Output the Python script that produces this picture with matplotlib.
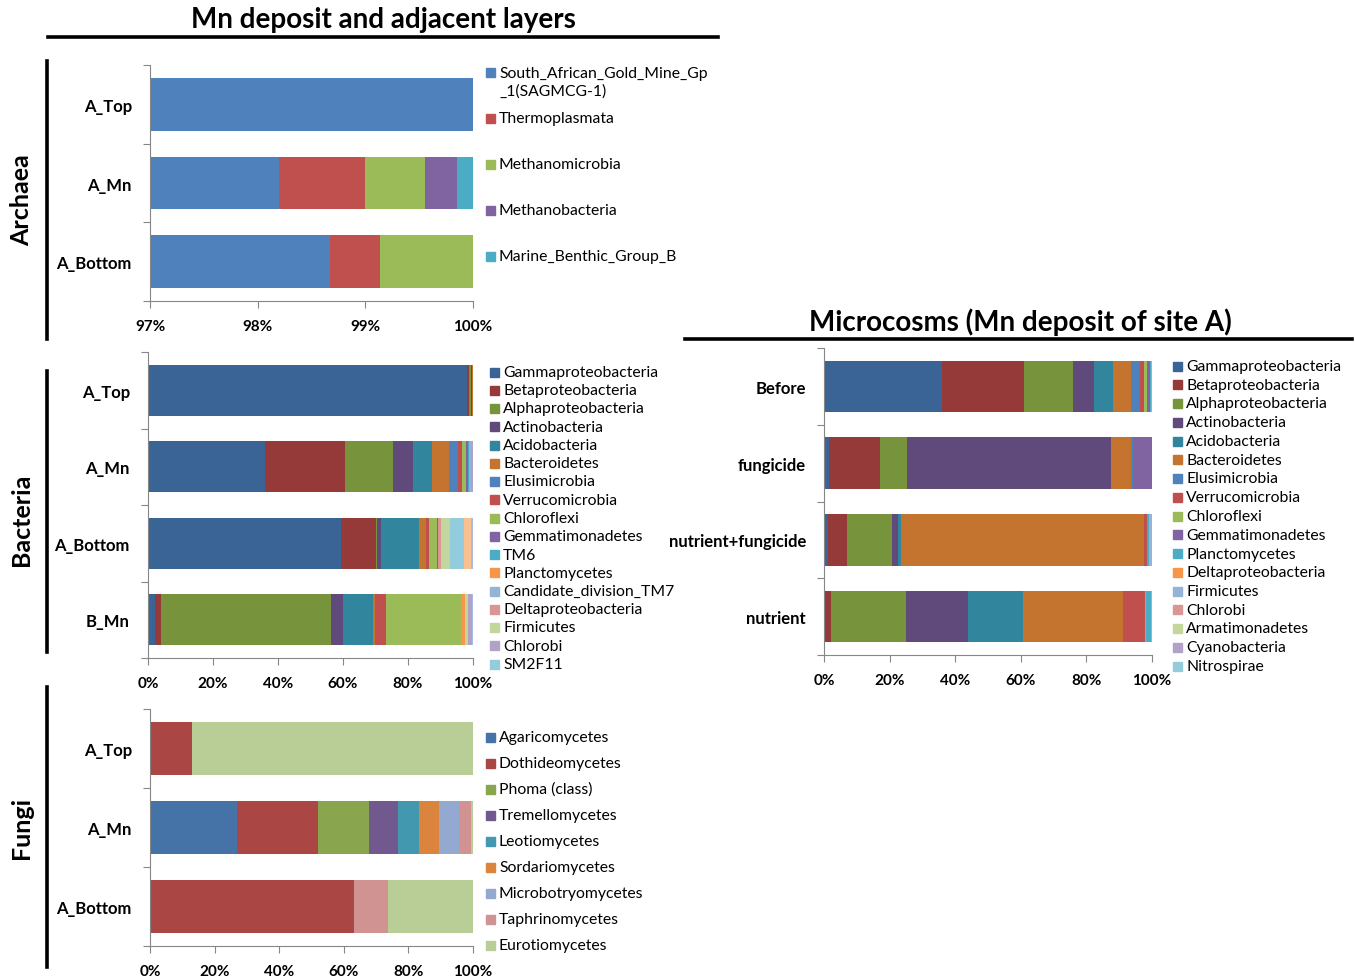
import numpy as np
import matplotlib.pyplot as plt
from matplotlib.patches import Rectangle
from matplotlib.lines import Line2D

plt.rcParams["font.family"] = ["Lato", "DejaVu Sans"]

W, H = 1355, 978

# ---- archaea ----
arch_samples = ["A_Top", "A_Mn", "A_Bottom"]
arch_names = ["South_African_Gold_Mine_Gp\n_1(SAGMCG-1)", "Thermoplasmata",
              "Methanomicrobia", "Methanobacteria", "Marine_Benthic_Group_B"]
arch_colors = ["#4F81BD", "#C0504D", "#9BBB59", "#8064A2", "#4BACC6"]
arch_top = [100.0, 0, 0, 0, 0]
arch_mn = [98.20, 0.80, 0.55, 0.30, 0.15]
arch_bottom = [98.67, 0.47, 0.86, 0, 0]

# ---- bacteria (last two groups are not listed in the legend) ----
bac_samples = ["A_Top", "A_Mn", "A_Bottom", "B_Mn"]
bac_names = ["Gammaproteobacteria", "Betaproteobacteria", "Alphaproteobacteria",
             "Actinobacteria", "Acidobacteria", "Bacteroidetes", "Elusimicrobia",
             "Verrucomicrobia", "Chloroflexi", "Gemmatimonadetes", "TM6",
             "Planctomycetes", "Candidate_division_TM7", "Deltaproteobacteria",
             "Firmicutes", "Chlorobi", "SM2F11", "Others", "Unassigned"]
bac_colors = ["#3B6496", "#953A38", "#77933C", "#604A7B", "#31859C", "#C5742F",
              "#4F81BD", "#C0504D", "#9BBB59", "#8064A2", "#4BACC6", "#F79646",
              "#95B3D7", "#D99694", "#C3D69B", "#B3A2C7", "#93CDDD", "#FAC090",
              "#A9B9E0"]
bac_a_top = [98.3, 0.4, 0.6, 0.3, 0.2, 0.2, 0, 0, 0, 0, 0, 0, 0, 0, 0, 0, 0, 0, 0]
bac_a_mn = [35.9, 24.6, 14.8, 6.3, 5.9, 5.2, 2.8, 1.2, 1.1, 0.7, 0.4, 0.3, 0.3,
            0.2, 0.1, 0.1, 0.1, 0, 0]
bac_a_bottom = [59.5, 10.7, 0.3, 1.1, 11.8, 2.2, 0, 0.9, 2.3, 0.3, 0, 0, 0, 1.2,
                2.7, 0, 4.1, 2.4, 0.5]
bac_b_mn = [2.1, 1.8, 52.4, 3.6, 9.4, 0.4, 0, 3.4, 23.3, 0, 0, 1.0, 0, 0, 1.2,
            1.2, 0, 0, 0.2]

# ---- fungi ----
fun_samples = ["A_Top", "A_Mn", "A_Bottom"]
fun_names = ["Agaricomycetes", "Dothideomycetes", "Phoma (class)", "Tremellomycetes",
             "Leotiomycetes", "Sordariomycetes", "Microbotryomycetes",
             "Taphrinomycetes", "Eurotiomycetes"]
fun_colors = ["#4572A7", "#AA4643", "#89A54E", "#71588F", "#4198AF", "#DB843D",
              "#93A9CF", "#D19392", "#B9CD96"]
fun_top = [0, 13.1, 0, 0, 0, 0, 0, 0, 86.9]
fun_mn = [26.9, 25.2, 15.8, 8.8, 6.5, 6.4, 6.2, 3.6, 0.6]
fun_bottom = [0, 63.3, 0, 0, 0, 0, 0, 10.4, 26.3]

# ---- microcosms ----
mic_samples = ["Before", "fungicide", "nutrient+fungicide", "nutrient"]
mic_names = ["Gammaproteobacteria", "Betaproteobacteria", "Alphaproteobacteria",
             "Actinobacteria", "Acidobacteria", "Bacteroidetes", "Elusimicrobia",
             "Verrucomicrobia", "Chloroflexi", "Gemmatimonadetes", "Planctomycetes",
             "Deltaproteobacteria", "Firmicutes", "Chlorobi", "Armatimonadetes",
             "Cyanobacteria", "Nitrospirae"]
mic_colors = ["#3B6496", "#953A38", "#77933C", "#604A7B", "#31859C", "#C5742F",
              "#4F81BD", "#C0504D", "#9BBB59", "#8064A2", "#4BACC6", "#F79646",
              "#95B3D7", "#D99694", "#C3D69B", "#B3A2C7", "#93CDDD"]
mic_before = [36.1, 24.9, 15.0, 6.2, 5.9, 5.4, 2.7, 1.3, 1.1, 0.8, 0.3, 0.1, 0.1,
              0.05, 0.05, 0, 0]
mic_fungicide = [1.4, 15.6, 8.3, 62.3, 0, 6.1, 0.5, 0, 0, 5.8, 0, 0, 0, 0, 0, 0, 0]
mic_nut_fung = [1.1, 5.8, 13.9, 1.9, 0.7, 74.1, 0, 0.9, 0.2, 0, 0.4, 0.1, 0.9,
                0, 0, 0, 0]
mic_nutrient = [0, 2.1, 22.8, 19.1, 16.8, 30.5, 0, 6.5, 0.4, 0, 1.6, 0, 0.2,
                0, 0, 0, 0]


def px_axes(x0, y0, x1, y1):
    # axes from pixel box (top-left origin)
    return fig.add_axes([x0 / W, 1 - y1 / H, (x1 - x0) / W, (y1 - y0) / H])


def stacked(ax, samples, rows, colors, xlim, xticks):
    data = np.array(rows, dtype=float)
    y = np.arange(len(samples))
    left = np.zeros(len(samples))
    for j, col in enumerate(colors):
        ax.barh(y, data[:, j], left=left, height=0.67, color=col, linewidth=0)
        left += data[:, j]
    ax.set_xlim(*xlim)
    ax.set_ylim(len(samples) - 0.5, -0.5)
    ax.set_yticks(np.arange(len(samples) + 1) - 0.5)
    ax.set_yticklabels([])
    ax.set_yticks(y, minor=True)
    ax.set_yticklabels(samples, minor=True, fontsize=12, fontweight="bold")
    ax.tick_params(axis="y", which="minor", length=0, pad=13)
    ax.tick_params(axis="y", which="major", length=5, color="#868686")
    ax.set_xticks(xticks)
    ax.set_xticklabels([f"{t:g}%" for t in xticks], fontsize=11, fontweight="bold")
    ax.tick_params(axis="x", length=5, color="#868686", pad=8)
    for s in ["top", "right"]:
        ax.spines[s].set_visible(False)
    for s in ["left", "bottom"]:
        ax.spines[s].set_color("#868686")


def legend(x, ys, names, colors, size=11.3):
    for yy, name, col in zip(ys, names, colors):
        fig.patches.append(Rectangle(((x) / W, 1 - (yy + 4.5) / H), 9 / W, 9 / H,
                                     transform=fig.transFigure, color=col))
        nl = name.count("\n")
        fig.text((x + 13) / W, 1 - (yy + 10 * nl) / H, name, fontsize=size,
                 va="center", ha="left", linespacing=1.3)


def hline(x0, x1, y):
    fig.add_artist(Line2D([x0 / W, x1 / W], [1 - y / H, 1 - y / H], color="black",
                          lw=2.6, transform=fig.transFigure))


def vline(x, y0, y1):
    fig.add_artist(Line2D([x / W, x / W], [1 - y0 / H, 1 - y1 / H], color="black",
                          lw=2.6, transform=fig.transFigure))


fig = plt.figure(figsize=(W / 100, H / 100), dpi=100)

# archaea panel
ax1 = px_axes(150, 66, 473, 302)
stacked(ax1, arch_samples, [arch_top, arch_mn, arch_bottom], arch_colors,
        (97, 100), [97, 98, 99, 100])
legend(486, [73, 119, 165, 211, 257], arch_names, arch_colors)

# bacteria panel
ax2 = px_axes(148, 353, 473, 659)
stacked(ax2, bac_samples, [bac_a_top, bac_a_mn, bac_a_bottom, bac_b_mn], bac_colors,
        (0, 100), [0, 20, 40, 60, 80, 100])
legend(490, [373 + 18.25 * i for i in range(17)], bac_names[:17], bac_colors[:17])

# fungi panel
ax3 = px_axes(150, 710, 473, 947)
stacked(ax3, fun_samples, [fun_top, fun_mn, fun_bottom], fun_colors,
        (0, 100), [0, 20, 40, 60, 80, 100])
legend(486, [738 + 26 * i for i in range(9)], fun_names, fun_colors)

# microcosm panel
ax4 = px_axes(824, 349, 1152, 656)
stacked(ax4, mic_samples, [mic_before, mic_fungicide, mic_nut_fung, mic_nutrient],
        mic_colors, (0, 100), [0, 20, 40, 60, 80, 100])
legend(1173, [367 + 18.75 * i for i in range(17)], mic_names, mic_colors)

# headings and brackets
fig.text(383 / W, 1 - 20 / H, "Mn deposit and adjacent layers", fontsize=20,
         fontweight="bold", ha="center", va="center")
hline(48, 718, 38)
fig.text(1020 / W, 1 - 322 / H, "Microcosms (Mn deposit of site A)", fontsize=20,
         fontweight="bold", ha="center", va="center")
hline(685, 1352, 340)

for label, yc, y0, y1 in [("Archaea", 200, 62, 340), ("Bacteria", 520, 372, 653),
                          ("Fungi", 828, 688, 968)]:
    vline(47, y0, y1)
    fig.text(22 / W, 1 - yc / H, label, fontsize=18, fontweight="bold",
             rotation=90, ha="center", va="center")

fig.savefig("out.png", dpi=100)
